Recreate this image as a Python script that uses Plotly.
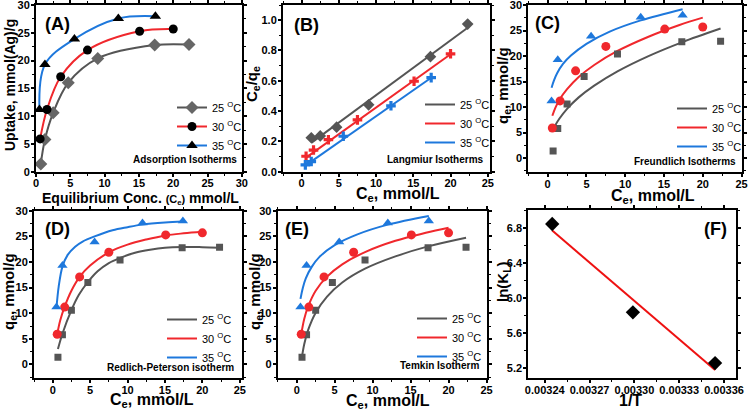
import plotly.graph_objects as go

# ---------------- data ----------------
ce25 = [0.7, 1.3, 2.5, 4.7, 9.0, 17.3, 22.3]
qe25 = [1.4, 5.8, 10.6, 16.0, 20.4, 22.8, 22.9]
ce30 = [0.6, 1.6, 3.6, 7.5, 15.1, 20.0]
qe30 = [5.9, 11.2, 17.1, 21.9, 25.3, 25.7]
ce35 = [0.5, 1.3, 5.6, 12.0, 17.4]
qe35 = [11.2, 19.3, 23.9, 27.6, 28.0]

# (B) Langmuir linear plot
lang_ce25 = [1.3, 2.5, 4.7, 9.0, 17.3, 22.3]
lang_r25 = [0.224, 0.236, 0.294, 0.441, 0.759, 0.974]
lang_r30 = [0.102, 0.143, 0.211, 0.342, 0.597, 0.778]
lang_r35 = [0.045, 0.067, 0.234, 0.435, 0.621]
lang_fit_x25 = [1.3, 22.3]
lang_fit_y25 = [0.19, 0.95]
lang_fit_x30 = [0.6, 20.0]
lang_fit_y30 = [0.093, 0.775]
lang_fit_x35 = [0.5, 17.4]
lang_fit_y35 = [0.040, 0.620]

# (C) Freundlich fitted curves
fr_x25 = [0.9, 1.0, 1.5, 2.5, 4.0, 6.0, 9.0, 13.0, 17.3, 22.3]
fr_y25 = [5.8, 6.44, 7.7, 9.65, 11.9, 14.2, 17.0, 20.0, 22.7, 25.4]
fr_x30 = [0.6, 1.0, 1.5, 2.5, 4.0, 6.0, 9.0, 13.0, 17.0, 20.0]
fr_y30 = [8.3, 9.9, 11.4, 13.5, 15.9, 18.25, 21.0, 23.8, 26.1, 27.55]
fr_x35 = [0.5, 0.8, 1.2, 2.0, 3.0, 5.0, 8.0, 12.0, 17.4]
fr_y35 = [13.8, 15.2, 16.6, 18.5, 20.1, 22.4, 24.8, 27.0, 29.2]

# (D) Redlich-Peterson fitted curves
rp_x25 = [0.7, 1.3, 2.5, 3.5, 4.7, 6.0, 7.5, 9.0, 11.0, 13.0, 15.0, 17.3, 20.0, 22.3]
rp_y25 = [3.0, 6.0, 10.6, 13.6, 16.1, 18.2, 19.8, 20.8, 21.8, 22.4, 22.8, 22.95, 22.9, 22.8]
rp_x30 = [0.6, 1.0, 1.6, 2.5, 3.6, 5.0, 7.5, 10.0, 12.5, 15.1, 17.5, 20.0]
rp_y30 = [5.9, 8.6, 11.3, 14.4, 17.1, 19.3, 21.9, 23.4, 24.4, 25.2, 25.6, 25.9]
rp_x35 = [0.5, 0.8, 1.3, 2.0, 3.0, 4.0, 5.6, 8.0, 10.0, 12.0, 15.0, 17.4]
rp_y35 = [11.0, 15.2, 19.1, 21.4, 23.0, 24.0, 25.0, 26.2, 26.8, 27.3, 27.7, 27.9]

# (E) Temkin fitted curves
tk_x25 = [0.7, 1.0, 1.5, 2.5, 4.0, 6.0, 9.0, 13.0, 17.3, 22.3]
tk_y25 = [1.5, 3.98, 6.69, 10.1, 13.25, 16.0, 18.7, 21.1, 23.05, 24.75]
tk_x30 = [0.6, 1.0, 1.5, 2.5, 4.0, 6.0, 9.0, 13.0, 17.0, 20.0]
tk_y30 = [5.9, 8.93, 11.3, 14.4, 17.15, 19.55, 21.95, 24.15, 25.7, 26.7]
tk_x35 = [0.5, 0.8, 1.2, 2.0, 3.0, 5.0, 8.0, 12.0, 17.4]
tk_y35 = [12.8, 14.9, 16.8, 19.1, 21.0, 23.3, 25.4, 27.3, 29.0]

# (F) van't Hoff
inv_T = [0.003245, 0.003299, 0.003354]
ln_KL = [6.85, 5.84, 5.26]
vh_fit_x = [0.003245, 0.003354]
vh_fit_y = [6.775, 5.18]

temp_names = ["25 <sup>O</sup>C", "30 <sup>O</sup>C", "35 <sup>O</sup>C"]

# ---------------- styling ----------------
FONT = "Liberation Sans"
GRAY = "#555555"
GRAYM = "#666666"
RED = "#f0282d"
BLUE = "#1e78dc"
W, H = 750, 411

fig = go.Figure()


def xd(a, b):
    return [a / W, b / W]


def yd(top, bottom):
    return [1 - bottom / H, 1 - top / H]


def ax(domain, rng, dtick, letter, fmt=None, minor_dtick=None, anchor=None):
    d = dict(
        domain=domain, range=rng, dtick=dtick, tick0=0,
        showline=True, linewidth=2, linecolor="black", mirror="ticks",
        ticks="outside", ticklen=3, tickwidth=1.5, tickcolor="black",
        ticklabelstandoff=(-3 if letter == "x" else -1),
        ticklabeloverflow="allow",
        tickfont=dict(family=FONT, size=11, color="black", weight="bold"),
        showgrid=False, zeroline=False, automargin=False,
        anchor=anchor,
    )
    if fmt:
        d["tickformat"] = fmt
    if minor_dtick:
        d["minor"] = dict(ticks="outside", ticklen=2, tickwidth=1, tickcolor="black", dtick=minor_dtick)
    return d


# panel frames (pixels: left, right, top, bottom)
PA = (36, 242, 5, 171.7)
PB = (283, 490, 5, 171.7)
PC = (528.3, 742.3, 5, 172.3)
PD = (34, 242, 210.7, 378.3)
PE = (277.7, 487.3, 210.7, 378.3)
PF = (528.3, 736, 210, 378.3)

layout_axes = {
    "xaxis": ax(xd(PA[0], PA[1]), [0, 30.02], 5, "x", minor_dtick=2.5, anchor="y"),
    "yaxis": ax(yd(PA[2], PA[3]), [0, 30.02], 5, "y", minor_dtick=2.5, anchor="x"),
    "xaxis2": ax(xd(PB[0], PB[1]), [-2.5, 25.3], 5, "x", minor_dtick=2.5, anchor="y2"),
    "yaxis2": ax(yd(PB[2], PB[3]), [0, 1.1], 0.2, "y", fmt=".1f", minor_dtick=0.1, anchor="x2"),
    "xaxis3": ax(xd(PC[0], PC[1]), [-2.5, 25.1], 5, "x", minor_dtick=2.5, anchor="y3"),
    "yaxis3": ax(yd(PC[2], PC[3]), [-2.8, 30.02], 5, "y", minor_dtick=2.5, anchor="x3"),
    "xaxis4": ax(xd(PD[0], PD[1]), [-2.5, 25.3], 5, "x", minor_dtick=2.5, anchor="y4"),
    "yaxis4": ax(yd(PD[2], PD[3]), [-2.7, 30.02], 5, "y", minor_dtick=2.5, anchor="x4"),
    "xaxis5": ax(xd(PE[0], PE[1]), [-2.5, 25.1], 5, "x", minor_dtick=2.5, anchor="y5"),
    "yaxis5": ax(yd(PE[2], PE[3]), [-2.7, 30.02], 5, "y", minor_dtick=2.5, anchor="x5"),
    "xaxis6": ax(xd(PF[0], PF[1]), [0.003229, 0.003368], 0.00003, "x", fmt=".5f",
                 minor_dtick=0.000015, anchor="y6"),
    "yaxis6": ax(yd(PF[2], PF[3]), [5.086, 7.01], 0.4, "y", fmt=".1f",
                 minor_dtick=0.2, anchor="x6"),
}
layout_axes["xaxis6"]["tick0"] = 0.00324
layout_axes["yaxis6"]["tick0"] = 5.2
layout_axes["xaxis6"]["minor"]["tick0"] = 0.00324
layout_axes["yaxis6"]["minor"]["tick0"] = 5.2

# ---------------- (A) ----------------
fig.add_trace(go.Scatter(x=ce25, y=qe25, mode="lines+markers", name=temp_names[0],
                         line=dict(color=GRAY, width=2, shape="spline"),
                         marker=dict(symbol="diamond", size=10, color=GRAYM),
                         xaxis="x", yaxis="y", legend="legend"))
fig.add_trace(go.Scatter(x=ce30, y=qe30, mode="lines+markers", name=temp_names[1],
                         line=dict(color=RED, width=2, shape="spline"),
                         marker=dict(symbol="circle", size=9, color="black"),
                         xaxis="x", yaxis="y", legend="legend"))
fig.add_trace(go.Scatter(x=ce35, y=qe35, mode="lines+markers", name=temp_names[2],
                         line=dict(color=BLUE, width=2, shape="spline"),
                         marker=dict(symbol="triangle-up", size=10, color="black"),
                         xaxis="x", yaxis="y", legend="legend"))

# ---------------- (B) ----------------
for fx, fy, col, nm in [(lang_fit_x25, lang_fit_y25, GRAY, temp_names[0]),
                        (lang_fit_x30, lang_fit_y30, RED, temp_names[1]),
                        (lang_fit_x35, lang_fit_y35, BLUE, temp_names[2])]:
    fig.add_trace(go.Scatter(x=fx, y=fy, mode="lines", name=nm, line=dict(color=col, width=2),
                             xaxis="x2", yaxis="y2", legend="legend2"))
fig.add_trace(go.Scatter(x=lang_ce25, y=lang_r25, mode="markers", showlegend=False,
                         marker=dict(symbol="diamond", size=9, color=GRAY), xaxis="x2", yaxis="y2"))
fig.add_trace(go.Scatter(x=ce30, y=lang_r30, mode="markers", showlegend=False,
                         marker=dict(symbol="cross", size=8, color=RED), xaxis="x2", yaxis="y2"))
fig.add_trace(go.Scatter(x=ce35, y=lang_r35, mode="markers", showlegend=False,
                         marker=dict(symbol="cross", size=8, color=BLUE), xaxis="x2", yaxis="y2"))


def fit_panel(xa, ya, leg, curves):
    for (fx, fy), col, nm in zip(curves, [GRAY, RED, BLUE], temp_names):
        fig.add_trace(go.Scatter(x=fx, y=fy, mode="lines", name=nm,
                                 line=dict(color=col, width=2, shape="spline"),
                                 xaxis=xa, yaxis=ya, legend=leg))
    fig.add_trace(go.Scatter(x=ce25, y=qe25, mode="markers", showlegend=False,
                             marker=dict(symbol="square", size=7, color=GRAY), xaxis=xa, yaxis=ya))
    fig.add_trace(go.Scatter(x=ce30, y=qe30, mode="markers", showlegend=False,
                             marker=dict(symbol="circle", size=9, color=RED), xaxis=xa, yaxis=ya))
    fig.add_trace(go.Scatter(x=ce35, y=qe35, mode="markers", showlegend=False,
                             marker=dict(symbol="triangle-up", size=9, color=BLUE), xaxis=xa, yaxis=ya))


fit_panel("x3", "y3", "legend3", [(fr_x25, fr_y25), (fr_x30, fr_y30), (fr_x35, fr_y35)])
fit_panel("x4", "y4", "legend4", [(rp_x25, rp_y25), (rp_x30, rp_y30), (rp_x35, rp_y35)])
fit_panel("x5", "y5", "legend5", [(tk_x25, tk_y25), (tk_x30, tk_y30), (tk_x35, tk_y35)])

# ---------------- (F) ----------------
fig.add_trace(go.Scatter(x=vh_fit_x, y=vh_fit_y, mode="lines", showlegend=False,
                         line=dict(color="#ee1111", width=2), xaxis="x6", yaxis="y6"))
fig.add_trace(go.Scatter(x=inv_T, y=ln_KL, mode="markers", showlegend=False,
                         marker=dict(symbol="diamond", size=11, color="black"), xaxis="x6", yaxis="y6"))


def legend_at(right_px, bottom_px):
    return dict(x=right_px / W, y=1 - bottom_px / H, xanchor="right", yanchor="bottom",
                bgcolor="rgba(0,0,0,0)", borderwidth=0,
                font=dict(family=FONT, size=11, color="black"), itemwidth=30,
                tracegroupgap=0)


annotations = []


def label(text, cx, cy, size=17, xanchor="center", angle=0):
    annotations.append(dict(text=text, x=cx / W, y=1 - cy / H, xref="paper", yref="paper",
                            showarrow=False, xanchor=xanchor, yanchor="middle", textangle=angle,
                            font=dict(family=FONT, size=size, color="black", weight="bold")))


# panel tags
label("(A)", 57, 24, size=18)
label("(B)", 306, 25, size=18)
label("(C)", 547, 23, size=18)
label("(D)", 57, 229, size=18)
label("(E)", 297, 229, size=18)
label("(F)", 715, 229, size=18)
# isotherm names
label("Adsorption Isotherms", 239, 159, size=10, xanchor="right")
label("Langmiur Isotherms", 486, 159, size=10, xanchor="right")
label("Freundlich Isotherms", 738, 162, size=10, xanchor="right")
label("Redlich-Peterson isotherm", 236, 367, size=10, xanchor="right")
label("Temkin Isotherm", 481, 365, size=10, xanchor="right")

# axis titles
qlab = "q<sub>e</sub>, mmol/g"
celab = "C<sub>e</sub>, mmol/L"
label("Equilibrium Conc. <span style='font-size:11px'>(C<sub>e</sub>)</span> mmol/L", 140, 198, size=14)
label("Uptake, mmol(Ag)/g", 10, 85, size=14, angle=-90)
label(celab, 398, 194, size=16)
label("C<sub>e</sub>/q<sub>e</sub>", 253, 84, size=15, angle=-90)
label(celab, 653, 196, size=16)
label(qlab, 504, 86, size=15, angle=-90)
label(celab, 152, 400, size=16)
label(qlab, 9, 292, size=15, angle=-90)
label(celab, 388, 401, size=16)
label(qlab, 255, 292, size=15, angle=-90)
label("1/T", 630, 400, size=16)
label("ln(K<sub>L</sub>)", 503, 282, size=15, angle=-90)

fig.update_layout(
    width=W, height=H, margin=dict(l=0, r=0, t=0, b=0),
    paper_bgcolor="white", plot_bgcolor="white",
    font=dict(family=FONT, color="black"),
    annotations=annotations,
    legend=legend_at(247, 160),
    legend2=legend_at(495, 157),
    legend3=legend_at(747, 161),
    legend4=legend_at(237, 372),
    legend5=legend_at(487, 371),
    **layout_axes,
)

fig.write_html("out.html")
